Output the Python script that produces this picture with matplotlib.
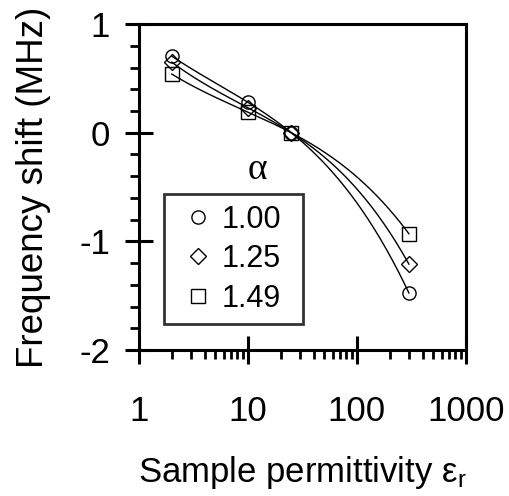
import matplotlib
matplotlib.use("Agg")
import matplotlib.pyplot as plt
import numpy as np
from matplotlib.ticker import LogLocator, MultipleLocator, FixedLocator, NullFormatter

plt.rcParams['font.family'] = ['Liberation Sans', 'DejaVu Sans']
plt.rcParams['mathtext.fontset'] = 'custom'
plt.rcParams['mathtext.rm'] = 'Liberation Sans'
plt.rcParams['mathtext.it'] = 'Liberation Sans:italic'

# data
permittivity = [2, 10, 25, 300]
alpha_labels = ['1.00', '1.25', '1.49']
shift_100 = [0.705, 0.28, 0.0, -1.475]
shift_125 = [0.65, 0.23, 0.0, -1.21]
shift_149 = [0.54, 0.19, 0.0, -0.93]
markers = ['o', 'D', 's']
msizes = [9.5, 8.0, 9.5]

fig = plt.figure(figsize=(5.1, 4.96), dpi=100)
ax = fig.add_axes([0.2725, 0.2944, 0.641, 0.657])

series = [shift_100, shift_125, shift_149]
u = np.log10(permittivity)
for ys, m, ms, lab in zip(series, markers, msizes, alpha_labels):
    # smooth curve through the measured points (cubic in log x)
    coef = np.polyfit(u, ys, 3)
    uu = np.linspace(u[0], u[-1], 200)
    ax.plot(10 ** uu, np.polyval(coef, uu), color='black', lw=1.0, zorder=2)
    ax.plot(permittivity, ys, linestyle='none', marker=m, ms=ms,
            mfc='none', mec='black', mew=1.0, label=lab, zorder=3)

ax.set_xscale('log')
ax.set_xlim(1, 1000)
ax.set_ylim(-2, 1)

ax.xaxis.set_major_locator(FixedLocator([1, 10, 100, 1000]))
ax.xaxis.set_minor_locator(LogLocator(base=10, subs=np.arange(2, 10)))
ax.xaxis.set_minor_formatter(NullFormatter())
ax.set_xticklabels(['1', '10', '100', '1000'])
ax.yaxis.set_major_locator(FixedLocator([-2, -1, 0, 1]))
ax.set_yticklabels(['-2', '-1', '0', '1'])
ax.yaxis.set_minor_locator(MultipleLocator(0.2))

for s in ax.spines.values():
    s.set_linewidth(2.2)

ax.tick_params(which='major', direction='inout', length=19.5, width=2.2,
               labelsize=25, top=False, right=False)
ax.tick_params(axis='x', which='major', pad=22.5)
ax.tick_params(axis='y', which='major', pad=11)
ax.tick_params(which='minor', direction='out', length=6.5, width=2.0,
               top=False, right=False)

ax.set_xlabel('Sample permittivity ε$_\\mathrm{r}$', fontsize=25)
ax.xaxis.set_label_coords(0.5, -0.32)
ax.set_ylabel('Frequency shift (MHz)', fontsize=26.5)
ax.yaxis.set_label_coords(-0.27, 0.5)

leg = ax.legend(loc='lower left', bbox_to_anchor=(0.0765, 0.08, 0.425, 0.4),
                mode='expand', fontsize=22,
                frameon=True, fancybox=False, edgecolor='black',
                handlelength=1.54, handletextpad=0.0, labelspacing=0.31,
                borderpad=0.34, borderaxespad=0)
leg.get_frame().set_linewidth(2.0)
ax.text(0.361, 0.552, 'α', transform=ax.transAxes, fontsize=27,
        family='Liberation Serif', ha='center', va='center')

fig.savefig('out.png', dpi=100)
